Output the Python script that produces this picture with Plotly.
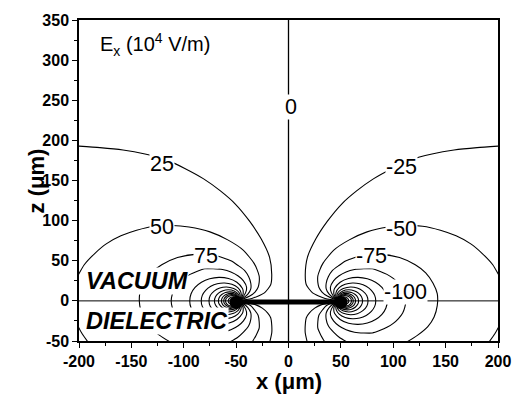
import plotly.graph_objects as go

# ---- contour levels of E_x (10^4 V/m); left side positive, right side negative ----
levels = [25, 50, 75, 100, 125, 150, 175, 200, 225, 250, 275, 300, 350, 400]

# digitised contour paths (x in um, z in um); None separates pieces cut by the frame
x_pos_25 = [-50, -35, -23, -17, -16, -18, -26, -37, -51, -65, -81, -99, -117, -137, -158, -180, -202, None, -18, -16, -16, -17, -20, -25, -31, -41, -50]
x_neg_25 = [50, 35, 23, 17, 16, 18, 26, 37, 51, 65, 81, 99, 117, 137, 158, 180, 202, None, 18, 16, 16, 17, 20, 25, 31, 41, 50]
z_25 = [0, 3, 10, 20, 33, 54, 77, 99, 121, 137, 152, 165, 176, 183, 188, 191, 193, None, -52, -40, -30, -21, -15, -9, -5, -2, 0]

x_pos_50 = [-50, -44, -37, -32, -29, -28, -28, -30, -33, -43, -58, -75, -95, -111, -128, -145, -160, -174, -185, -195, -202, None, -202, -197, -191, None, -35, -31, -28, -28, -29, -32, -36, -43, -50]
x_neg_50 = [50, 44, 37, 32, 29, 28, 28, 30, 33, 43, 58, 75, 95, 111, 128, 145, 160, 174, 185, 195, 202, None, 202, 197, 191, None, 35, 31, 28, 28, 29, 32, 36, 43, 50]
z_50 = [0, 2, 6, 11, 17, 23, 31, 39, 47, 63, 76, 86, 92, 94, 93, 88, 81, 71, 59, 45, 29, None, -29, -41, -52, None, -52, -43, -34, -26, -18, -12, -6, -2, 0]

x_pos_75 = [-50, -44, -39, -36, -36, -38, -42, -48, -55, -71, -89, -106, -121, -131, -138, -142, -142, -139, -133, -123, -112, None, -57, -49, -43, -38, -36, -36, -39, -44, -50]
x_neg_75 = [50, 44, 39, 36, 36, 38, 42, 48, 55, 71, 89, 106, 121, 131, 138, 142, 142, 139, 133, 123, 112, None, 57, 49, 43, 38, 36, 36, 39, 44, 50]
z_75 = [0, 3, 8, 15, 22, 30, 38, 44, 50, 57, 58, 54, 45, 35, 22, 9, -6, -20, -32, -43, -52, None, -52, -46, -39, -31, -23, -15, -8, -3, 0]

x_pos_100 = [-50, -45, -41, -40, -43, -48, -55, -63, -72, -80, -87, -94, -100, -105, -109, -111, -112, -111, -109, -105, -100, -94, -87, -80, -72, -63, -55, -48, -43, -40, -41, -45, -50]
x_neg_100 = [50, 45, 41, 40, 43, 48, 55, 63, 72, 80, 87, 94, 100, 105, 109, 111, 112, 111, 109, 105, 100, 94, 87, 80, 72, 63, 55, 48, 43, 40, 41, 45, 50]
z_100 = [0, 3, 10, 17, 25, 31, 36, 39, 40, 40, 37, 33, 28, 22, 15, 8, 0, -8, -15, -22, -28, -33, -37, -40, -40, -39, -36, -31, -25, -17, -10, -3, 0]

x_pos_125 = [-50, -46.2, -43.5, -43.3, -44.1, -49.3, -57.3, -66.4, -75.3, -83.1, -89.2, -93, -94.3, -93, -89.2, -83.1, -75.3, -66.4, -57.3, -49.3, -44.1, -43.3, -43.5, -46.2, -50]
x_neg_125 = [50, 46.2, 43.5, 43.3, 44.1, 49.3, 57.3, 66.4, 75.3, 83.1, 89.2, 93, 94.3, 93, 89.2, 83.1, 75.3, 66.4, 57.3, 49.3, 44.1, 43.3, 43.5, 46.2, 50]
z_125 = [0, 2.3, 7.6, 12.6, 15.7, 23.2, 27.9, 29.3, 27.6, 23.2, 16.7, 8.8, 0, -8.8, -16.7, -23.2, -27.6, -29.3, -27.9, -23.2, -15.7, -12.6, -7.6, -2.3, 0]

x_pos_150 = [-50, -47.4, -45.4, -45.4, -48.4, -54.1, -61, -68, -74.2, -79.1, -82.3, -83.3, -82.3, -79.1, -74.2, -68, -61, -54.1, -48.4, -45.4, -45.4, -47.4, -50]
x_neg_150 = [50, 47.4, 45.4, 45.4, 48.4, 54.1, 61, 68, 74.2, 79.1, 82.3, 83.3, 82.3, 79.1, 74.2, 68, 61, 54.1, 48.4, 45.4, 45.4, 47.4, 50]
z_150 = [0, 1.6, 5.1, 10.6, 16.4, 20.6, 22.2, 21.3, 18.1, 13.1, 6.9, 0, -6.9, -13.1, -18.1, -21.3, -22.2, -20.6, -16.4, -10.6, -5.1, -1.6, 0]

x_pos_175 = [-50, -47.8, -46.5, -46.3, -47.4, -49.5, -52.3, -59.2, -65.6, -71, -74.7, -75.9, -74.7, -71, -65.6, -59.2, -52.3, -49.5, -47.4, -46.3, -46.5, -47.8, -50]
x_neg_175 = [50, 47.8, 46.5, 46.3, 47.4, 49.5, 52.3, 59.2, 65.6, 71, 74.7, 75.9, 74.7, 71, 65.6, 59.2, 52.3, 49.5, 47.4, 46.3, 46.5, 47.8, 50]
z_175 = [0, 1.4, 4.2, 7.5, 10.7, 13.4, 15.5, 17.3, 16, 12.2, 6.6, 0, -6.6, -12.2, -16, -17.3, -15.5, -13.4, -10.7, -7.5, -4.2, -1.4, 0]

x_pos_200 = [-50, -48.3, -47.2, -47.2, -48, -51.9, -57.4, -62.5, -66.8, -69.7, -70.7, -69.7, -66.8, -62.5, -57.4, -51.9, -48, -47.2, -47.2, -48.3, -50]
x_neg_200 = [50, 48.3, 47.2, 47.2, 48, 51.9, 57.4, 62.5, 66.8, 69.7, 70.7, 69.7, 66.8, 62.5, 57.4, 51.9, 48, 47.2, 47.2, 48.3, 50]
z_200 = [0, 1.1, 3.4, 6, 8.6, 12.4, 13.8, 12.7, 9.7, 5.2, 0, -5.2, -9.7, -12.7, -13.8, -12.4, -8.6, -6, -3.4, -1.1, 0]

x_pos_225 = [-50, -48.6, -47.8, -47.7, -48.5, -51.6, -56.1, -60.2, -63.7, -66.1, -66.9, -66.1, -63.7, -60.2, -56.1, -51.6, -48.5, -47.7, -47.8, -48.6, -50]
x_neg_225 = [50, 48.6, 47.8, 47.7, 48.5, 51.6, 56.1, 60.2, 63.7, 66.1, 66.9, 66.1, 63.7, 60.2, 56.1, 51.6, 48.5, 47.7, 47.8, 48.6, 50]
z_225 = [0, 0.9, 2.8, 4.9, 7, 10.1, 11.2, 10.4, 7.9, 4.3, 0, -4.3, -7.9, -10.4, -11.2, -10.1, -7, -4.9, -2.8, -0.9, 0]

x_pos_250 = [-50, -48.2, -48.8, -51.4, -55.1, -58.5, -61.4, -63.3, -64, -63.3, -61.4, -58.5, -55.1, -51.4, -48.8, -48.2, -50]
x_neg_250 = [50, 48.2, 48.8, 51.4, 55.1, 58.5, 61.4, 63.3, 64, 63.3, 61.4, 58.5, 55.1, 51.4, 48.8, 48.2, 50]
z_250 = [0, 2.3, 5.8, 8.4, 9.3, 8.6, 6.6, 3.5, 0, -3.5, -6.6, -8.6, -9.3, -8.4, -5.8, -2.3, 0]

x_pos_275 = [-50, -48.5, -49, -51.2, -54.3, -57.2, -59.6, -61.3, -61.8, -61.3, -59.6, -57.2, -54.3, -51.2, -49, -48.5, -50]
x_neg_275 = [50, 48.5, 49, 51.2, 54.3, 57.2, 59.6, 61.3, 61.8, 61.3, 59.6, 57.2, 54.3, 51.2, 49, 48.5, 50]
z_275 = [0, 1.9, 4.9, 7, 7.8, 7.2, 5.5, 3, 0, -3, -5.5, -7.2, -7.8, -7, -4.9, -1.9, 0]

x_pos_300 = [-50, -48.7, -49.2, -51, -53.7, -56.1, -58.2, -59.6, -60.1, -59.6, -58.2, -56.1, -53.7, -51, -49.2, -48.7, -50]
x_neg_300 = [50, 48.7, 49.2, 51, 53.7, 56.1, 58.2, 59.6, 60.1, 59.6, 58.2, 56.1, 53.7, 51, 49.2, 48.7, 50]
z_300 = [0, 1.6, 4.2, 6, 6.7, 6.2, 4.7, 2.5, 0, -2.5, -4.7, -6.2, -6.7, -6, -4.2, -1.6, 0]

x_pos_350 = [-50, -49, -49.4, -50.8, -52.8, -56.2, -57.6, -56.2, -52.8, -50.8, -49.4, -49, -50]
x_neg_350 = [50, 49, 49.4, 50.8, 52.8, 56.2, 57.6, 56.2, 52.8, 50.8, 49.4, 49, 50]
z_350 = [0, 1.2, 3.1, 4.5, 5, 3.5, 0, -3.5, -5, -4.5, -3.1, -1.2, 0]

x_pos_400 = [-50, -49.3, -49.5, -52.2, -54.8, -55.9, -54.8, -52.2, -49.5, -49.3, -50]
x_neg_400 = [50, 49.3, 49.5, 52.2, 54.8, 55.9, 54.8, 52.2, 49.5, 49.3, 50]
z_400 = [0, 1, 2.4, 3.9, 2.7, 0, -2.7, -3.9, -2.4, -1, 0]

# zero contour, interface, electrode
zero_x = [0, 0]
zero_z = [-50, 350]
interface_x = [-200, 200]
interface_z = [0, 0]
electrode_x = [-50, 50]
electrode_z = [-1.5, -1.5]
edge_z = [-2, -2]

# contour labels
label_text = ["25", "50", "75", "0", "-25", "-50", "-75", "-100"]
label_x = [-121, -121, -79, 2, 107.5, 107.5, 79, 112]
label_z = [170, 92, 56, 241, 167, 90, 56, 11]

# axis ticks
x_ticks = [-200, -150, -100, -50, 0, 50, 100, 150, 200]
z_ticks = [-50, 0, 50, 100, 150, 200, 250, 300, 350]

g = globals()
paths = [(g[f"x_pos_{L}"], g[f"x_neg_{L}"], g[f"z_{L}"]) for L in levels]

FONT = "Liberation Sans"
fig = go.Figure()
line_style = dict(color="black", width=1.1, shape="spline", smoothing=0.6)
for xp, xn, zz in paths:
    fig.add_trace(go.Scatter(x=xp, y=zz, mode="lines", line=line_style, connectgaps=False,
                             showlegend=False, hoverinfo="skip"))
    fig.add_trace(go.Scatter(x=xn, y=zz, mode="lines", line=line_style, connectgaps=False,
                             showlegend=False, hoverinfo="skip"))

fig.add_trace(go.Scatter(x=zero_x, y=zero_z, mode="lines", line=dict(color="black", width=1.3),
                         showlegend=False, hoverinfo="skip"))
fig.add_trace(go.Scatter(x=interface_x, y=interface_z, mode="lines", line=dict(color="black", width=1),
                         showlegend=False, hoverinfo="skip"))
fig.add_trace(go.Scatter(x=electrode_x, y=electrode_z, mode="lines", line=dict(color="black", width=5),
                         showlegend=False, hoverinfo="skip"))
fig.add_trace(go.Scatter(x=electrode_x, y=edge_z, mode="markers", marker=dict(color="black", size=13),
                         showlegend=False, hoverinfo="skip"))

for t, x, z in zip(label_text, label_x, label_z):
    fig.add_annotation(x=x, y=z, xref="x", yref="y", text=t, showarrow=False,
                       font=dict(family=FONT, size=21.5, color="black"),
                       bgcolor="white", borderpad=0)

fig.add_annotation(x=-182, y=320, xref="x", yref="y", xanchor="left",
                   text="E<sub>x</sub> (10<sup>4</sup> V/m)",
                   showarrow=False, font=dict(family=FONT, size=20, color="black"))
fig.add_annotation(x=-145, y=25, xref="x", yref="y", text="<b><i>VACUUM</i></b>", showarrow=False,
                   font=dict(family=FONT, size=23.5, color="black"), bgcolor="white", borderpad=0)
fig.add_annotation(x=-126, y=-25, xref="x", yref="y", text="<b><i>DIELECTRIC</i></b>", showarrow=False,
                   font=dict(family=FONT, size=23.5, color="black"), bgcolor="white", borderpad=0)

fig.add_annotation(x=0.5, y=-0.125, xref="paper", yref="paper", yanchor="middle", text="<b>x (μm)</b>",
                   showarrow=False, font=dict(family=FONT, size=22, color="black"))
fig.add_annotation(x=-0.135, y=0.5, xref="paper", yref="paper", text="<b>z (μm)</b>", textangle=-90,
                   showarrow=False, font=dict(family=FONT, size=22, color="black"))

fig.update_layout(width=523, height=401, margin=dict(l=79, r=16, t=18, b=60),
                  plot_bgcolor="white", paper_bgcolor="white",
                  font=dict(family=FONT, color="black"))
axis_common = dict(showline=True, mirror=True, linecolor="black", linewidth=1.5, ticks="outside",
                   ticklen=5, tickwidth=1.2, tickcolor="black", showgrid=False, zeroline=False,
                   tickfont=dict(family=FONT, size=16, color="black", weight="bold"),
                   minor=dict(dtick=25, ticks="outside", ticklen=3, tickcolor="black", showgrid=False))
fig.update_xaxes(range=[-200, 200], tickvals=x_ticks, ticktext=[str(v) for v in x_ticks], **axis_common)
fig.update_yaxes(range=[-50, 350], tickvals=z_ticks, ticktext=[str(v) for v in z_ticks], **axis_common)
fig.update_xaxes(minor=dict(tick0=-200))
fig.update_yaxes(minor=dict(tick0=-50))

# remove the default page margin so the 523x401 figure fills the window exactly
fig.write_html("out.html", config={"displayModeBar": False},
               post_script="document.body.style.margin='0';document.body.style.overflow='hidden';")
